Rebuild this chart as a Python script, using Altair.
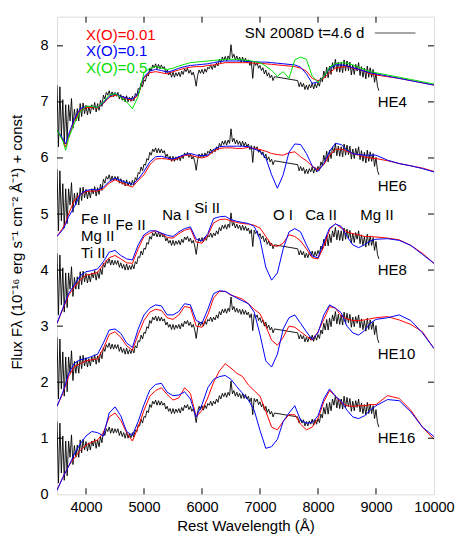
import altair as alt
import pandas as pd

# ---------------- data ----------------
model_wave = [3500, 3600, 3650, 3700, 3800, 3900, 4000, 4100, 4200, 4300, 4400, 4500, 4600, 4700, 4800, 4900,
              5000, 5100, 5200, 5300, 5400, 5500, 5600, 5700, 5800, 5900, 6000, 6100, 6200, 6300, 6400, 6500,
              6600, 6700, 6800, 6900, 7000, 7100, 7200, 7300, 7400, 7500, 7600, 7700, 7800, 7900, 8000, 8100,
              8200, 8300, 8400, 8500, 8600, 8700, 8800, 8900, 9000, 9200, 9400, 9600, 9800, 10000]

# HE16
he16_red = [0.08, 0.3, 0.4, 0.5, 0.65, 0.78, 0.88, 0.93, 0.97, 1.1, 1.38, 1.45, 1.32, 1.1, 0.95, 1.2,
            1.5, 1.75, 1.85, 1.9, 1.78, 1.68, 1.72, 1.9, 1.8, 1.38, 1.5, 1.72, 2.0, 2.2, 2.33, 2.25,
            2.16, 2.1, 1.95, 1.85, 1.75, 1.48, 1.2, 1.15, 1.3, 1.42, 1.42, 1.25, 1.15, 1.2, 1.35, 1.65,
            1.85, 1.75, 1.63, 1.58, 1.57, 1.58, 1.58, 1.6, 1.6, 1.76, 1.71, 1.5, 1.2, 0.98]
he16_blue = [0.07, 0.3, 0.4, 0.5, 0.72, 0.9, 1.04, 1.12, 1.1, 1.04, 1.45, 1.56, 1.4, 1.12, 1.05, 1.3,
             1.6, 1.86, 1.96, 1.98, 1.82, 1.76, 1.77, 1.83, 1.7, 1.38, 1.6, 1.9, 2.05, 2.1, 2.12, 2.05,
             1.92, 1.8, 1.68, 1.5, 1.14, 0.82, 0.85, 0.98, 1.3, 1.45, 1.58, 1.32, 1.27, 1.28, 1.4, 1.7,
             1.88, 1.75, 1.66, 1.5, 1.38, 1.35, 1.4, 1.5, 1.58, 1.69, 1.67, 1.47, 1.2, 1.03]
# HE10
he10_red = [1.57, 1.8, 1.95, 2.1, 2.28, 2.33, 2.38, 2.4, 2.42, 2.6, 2.85, 2.9, 2.8, 2.65, 2.57, 2.85,
            3.1, 3.25, 3.3, 3.28, 3.15, 3.12, 3.2, 3.35, 3.33, 3.0, 2.98, 3.2, 3.5, 3.62, 3.62, 3.55,
            3.52, 3.48, 3.4, 3.3, 3.22, 3.0, 2.75, 2.66, 2.8, 3.0, 2.98, 2.9, 2.82, 2.75, 2.9, 3.12,
            3.35, 3.32, 3.18, 3.13, 3.1, 3.1, 3.11, 3.13, 3.15, 3.17, 3.11, 3.03, 2.9, 2.6]
he10_blue = [1.57, 1.82, 1.98, 2.15, 2.34, 2.4, 2.42, 2.46, 2.5, 2.7, 2.93, 2.95, 2.87, 2.7, 2.62, 2.95,
             3.2, 3.32, 3.38, 3.36, 3.2, 3.2, 3.26, 3.4, 3.38, 3.1, 3.05, 3.3, 3.58, 3.63, 3.62, 3.56,
             3.5, 3.45, 3.4, 3.25, 2.85, 2.38, 2.27, 2.5, 2.95, 3.15, 3.2, 3.05, 2.9, 2.76, 2.88, 3.2,
             3.38, 3.32, 3.24, 3.0, 2.88, 2.84, 2.92, 3.05, 3.12, 3.15, 3.2, 3.1, 2.88, 2.6]
# HE8
he8_red = [3.05, 3.3, 3.42, 3.55, 3.7, 3.82, 3.91, 3.93, 3.96, 4.1, 4.22, 4.26, 4.2, 4.13, 4.12, 4.38,
           4.6, 4.66, 4.7, 4.65, 4.58, 4.57, 4.65, 4.71, 4.74, 4.5, 4.48, 4.62, 4.84, 4.9, 4.91, 4.88,
           4.85, 4.83, 4.82, 4.8, 4.75, 4.6, 4.45, 4.42, 4.48, 4.63, 4.6, 4.52, 4.38, 4.22, 4.2, 4.42,
           4.72, 4.83, 4.75, 4.68, 4.65, 4.63, 4.6, 4.6, 4.59, 4.57, 4.54, 4.44, 4.3, 4.12]
he8_blue = [3.05, 3.32, 3.45, 3.58, 3.74, 3.9, 3.97, 3.99, 4.02, 4.15, 4.32, 4.35, 4.26, 4.2, 4.18, 4.45,
            4.63, 4.7, 4.7, 4.66, 4.62, 4.6, 4.68, 4.74, 4.77, 4.55, 4.52, 4.65, 4.92, 4.95, 4.96, 4.9,
            4.87, 4.85, 4.83, 4.78, 4.55, 4.05, 3.82, 3.95, 4.38, 4.68, 4.74, 4.68, 4.45, 4.25, 4.22, 4.5,
            4.75, 4.82, 4.78, 4.6, 4.45, 4.4, 4.45, 4.52, 4.55, 4.56, 4.53, 4.44, 4.28, 4.12]
# HE6
he6_red = [4.6, 4.75, 4.85, 5.0, 5.25, 5.35, 5.4, 5.41, 5.41, 5.45, 5.55, 5.61, 5.56, 5.52, 5.48, 5.6,
           5.7, 5.88, 5.98, 5.99, 5.98, 5.96, 6.0, 6.05, 6.05, 6.02, 6.0, 6.03, 6.12, 6.17, 6.18, 6.18,
           6.17, 6.17, 6.19, 6.17, 6.15, 6.12, 6.08, 6.06, 6.05, 6.09, 6.11, 6.02, 5.95, 5.85, 5.79, 5.88,
           6.05, 6.15, 6.16, 6.12, 6.08, 6.05, 6.02, 6.0, 5.99, 5.95, 5.9, 5.86, 5.82, 5.76]
he6_blue = [4.6, 4.72, 4.82, 4.95, 5.13, 5.35, 5.42, 5.44, 5.43, 5.48, 5.58, 5.64, 5.6, 5.56, 5.53, 5.62,
            5.76, 5.93, 6.02, 6.03, 6.0, 5.98, 6.02, 6.06, 6.08, 6.05, 6.04, 6.05, 6.15, 6.2, 6.21, 6.21,
            6.21, 6.21, 6.2, 6.16, 6.12, 6.0, 5.7, 5.46, 5.7, 6.1, 6.25, 6.24, 6.08, 5.86, 5.76, 5.9,
            6.12, 6.26, 6.24, 6.14, 6.08, 6.06, 6.05, 6.05, 6.05, 5.96, 5.9, 5.86, 5.81, 5.75]
# HE4
he4_red = [6.5, 6.32, 6.2, 6.38, 6.65, 6.85, 6.9, 6.9, 6.89, 6.97, 7.08, 7.12, 7.1, 7.06, 7.03, 7.12,
           7.43, 7.52, 7.54, 7.52, 7.5, 7.54, 7.57, 7.6, 7.62, 7.63, 7.63, 7.65, 7.66, 7.68, 7.7, 7.7,
           7.7, 7.7, 7.7, 7.69, 7.69, 7.68, 7.67, 7.66, 7.65, 7.64, 7.63, 7.6, 7.55, 7.42, 7.38, 7.42,
           7.52, 7.6, 7.62, 7.63, 7.6, 7.58, 7.55, 7.5, 7.48, 7.45, 7.42, 7.38, 7.34, 7.3]
he4_blue = [6.5, 6.35, 6.25, 6.42, 6.7, 6.88, 6.92, 6.92, 6.9, 6.98, 7.1, 7.15, 7.1, 7.07, 7.05, 7.15,
            7.45, 7.55, 7.58, 7.56, 7.53, 7.56, 7.6, 7.63, 7.65, 7.66, 7.67, 7.68, 7.7, 7.72, 7.73, 7.73,
            7.73, 7.73, 7.72, 7.72, 7.71, 7.71, 7.7, 7.69, 7.68, 7.67, 7.66, 7.62, 7.5, 7.33, 7.36, 7.45,
            7.6, 7.66, 7.66, 7.64, 7.61, 7.58, 7.55, 7.52, 7.5, 7.46, 7.42, 7.38, 7.34, 7.3]
he4_green = [6.5, 6.3, 6.14, 6.35, 6.62, 6.82, 6.92, 6.92, 6.9, 7.0, 7.12, 7.15, 7.08, 7.0, 6.88, 7.1,
             7.52, 7.6, 7.63, 7.6, 7.58, 7.6, 7.64, 7.67, 7.7, 7.71, 7.72, 7.73, 7.74, 7.75, 7.76, 7.76,
             7.76, 7.75, 7.74, 7.72, 7.7, 7.64, 7.56, 7.46, 7.54, 7.42, 7.75, 7.8, 7.76, 7.46, 7.35, 7.45,
             7.62, 7.68, 7.7, 7.69, 7.66, 7.62, 7.58, 7.54, 7.52, 7.48, 7.44, 7.4, 7.36, 7.32]

# observed spectrum of SN 2008D (lowest panel level; other panels shifted by a constant)
obs_wave = [3500, 3525, 3550, 3575, 3600, 3625, 3650, 3675, 3700, 3725, 3750, 3775, 3800, 3825, 3850, 3875,
            3900, 3925, 3950, 3975, 4000, 4025, 4050, 4075, 4100, 4125, 4150, 4175, 4200, 4225, 4250, 4275,
            4300, 4325, 4350, 4375, 4400, 4425, 4450, 4475, 4500, 4525, 4550, 4575, 4600, 4625, 4650, 4675,
            4700, 4725, 4750, 4775, 4800, 4825, 4850, 4875, 4900, 4925, 4950, 4975, 5000, 5025, 5050, 5075,
            5100, 5125, 5150, 5175, 5200, 5225, 5250, 5275, 5300, 5325, 5350, 5375, 5400, 5425, 5450, 5475,
            5500, 5525, 5550, 5575, 5600, 5625, 5650, 5675, 5700, 5725, 5750, 5775, 5800, 5825, 5850, 5875,
            5900, 5925, 5950, 5975, 6000, 6025, 6050, 6075, 6100, 6125, 6150, 6175, 6200, 6225, 6250, 6275,
            6300, 6325, 6350, 6375, 6400, 6425, 6450, 6475, 6500, 6525, 6550, 6575, 6600, 6625, 6650, 6675,
            6700, 6725, 6750, 6775, 6800, 6825, 6850, 6875, 6900, 6925, 6950, 6975, 7000, 7025, 7050, 7075,
            7100, 7125, 7150, 7175, 7200, 7225, 7250, 7650, 7675, 7700, 7725, 7750, 7775, 7800, 7825, 7850,
            7875, 7900, 7925, 7950, 7975, 8000, 8025, 8050, 8075, 8100, 8125, 8150, 8175, 8200, 8225, 8250,
            8275, 8300, 8325, 8350, 8375, 8400, 8425, 8450, 8475, 8500, 8525, 8550, 8575, 8600, 8625, 8650,
            8675, 8700, 8725, 8750, 8775, 8800, 8825, 8850, 8875, 8900, 8925, 8950, 8975, 9000, 9025, 9050]
obs_flux = [1.30, 0.20, 1.27, 0.38, 1.04, 0.25, 0.95, 0.33, 0.95, 0.66, 1.06, 0.53, 0.87, 0.66, 0.88, 0.66,
            0.97, 0.74, 0.98, 0.79, 0.94, 0.77, 0.92, 0.79, 0.95, 0.86, 0.99, 0.82, 0.97, 0.85, 1.03, 0.92,
            1.12, 1.05, 1.17, 1.12, 1.20, 1.09, 1.18, 1.09, 1.17, 1.10, 1.17, 1.05, 1.13, 1.03, 1.10, 1.00,
            1.11, 1.00, 1.08, 1.01, 1.10, 1.02, 1.15, 1.11, 1.24, 1.22, 1.34, 1.27, 1.39, 1.37, 1.49, 1.46,
            1.60, 1.55, 1.66, 1.61, 1.68, 1.59, 1.67, 1.59, 1.66, 1.59, 1.63, 1.52, 1.57, 1.48, 1.53, 1.44,
            1.53, 1.44, 1.52, 1.46, 1.53, 1.45, 1.55, 1.49, 1.59, 1.54, 1.60, 1.51, 1.57, 1.48, 1.53, 1.43,
            1.28, 1.47, 1.57, 1.51, 1.58, 1.50, 1.59, 1.53, 1.62, 1.59, 1.66, 1.58, 1.66, 1.61, 1.70, 1.64,
            1.76, 1.70, 1.80, 1.74, 1.81, 1.73, 1.82, 1.76, 2.02, 1.79, 1.85, 1.75, 1.82, 1.74, 1.80, 1.71,
            1.80, 1.71, 1.78, 1.70, 1.75, 1.65, 1.72, 1.42, 1.71, 1.65, 1.70, 1.60, 1.65, 1.56, 1.61, 1.50,
            1.57, 1.46, 1.52, 1.43, 1.48, 1.38, 1.45, 1.38, 1.27, 1.35, 1.27, 1.33, 1.22, 1.30, 1.22, 1.31,
            1.25, 1.34, 1.23, 1.33, 1.25, 1.35, 1.28, 1.43, 1.36, 1.55, 1.43, 1.62, 1.43, 1.64, 1.49, 1.70,
            1.59, 1.76, 1.54, 1.71, 1.53, 1.70, 1.52, 1.75, 1.55, 1.73, 1.56, 1.71, 1.48, 1.66, 1.49, 1.67,
            1.55, 1.70, 1.47, 1.63, 1.44, 1.60, 1.41, 1.64, 1.44, 1.61, 1.44, 1.58, 1.35, 1.51, 1.28, 1.20]

panels = ["HE4", "HE6", "HE8", "HE10", "HE16"]
panel_offsets = [6.0, 4.5, 3.0, 1.5, 0.0]
panel_label_y = [7.0, 5.5, 4.0, 2.5, 1.0]

model_names = ["X(O)=0.01", "X(O)=0.1", "X(O)=0.5"]
model_colors = ["#ff0000", "#0000ff", "#00e000"]

line_ids = ["Fe II", "Mg II", "Ti II", "Fe II", "Na I", "Si II", "O I", "Ca II", "Mg II"]
line_id_wave = [3915, 3915, 3915, 4510, 5315, 5865, 7225, 7780, 8730]
line_id_flux = [4.92, 4.6, 4.31, 4.8, 4.98, 5.1, 4.98, 4.98, 4.98]

x_ticks = [4000, 5000, 6000, 7000, 8000, 9000, 10000]
y_ticks = [0, 1, 2, 3, 4, 5, 6, 7, 8]

# ---------------- tables ----------------
series = {
    ("HE16", "X(O)=0.01"): he16_red, ("HE16", "X(O)=0.1"): he16_blue,
    ("HE10", "X(O)=0.01"): he10_red, ("HE10", "X(O)=0.1"): he10_blue,
    ("HE8", "X(O)=0.01"): he8_red, ("HE8", "X(O)=0.1"): he8_blue,
    ("HE6", "X(O)=0.01"): he6_red, ("HE6", "X(O)=0.1"): he6_blue,
    ("HE4", "X(O)=0.01"): he4_red, ("HE4", "X(O)=0.1"): he4_blue, ("HE4", "X(O)=0.5"): he4_green,
}
rows = []
for (p, m), vals in series.items():
    for w, f in zip(model_wave, vals):
        rows.append({"wave": w, "flux": f, "panel": p, "model": m})
models_df = pd.DataFrame(rows)

orows = []
for p, off in zip(panels, panel_offsets):
    for w, f in zip(obs_wave, obs_flux):
        orows.append({"wave": w, "flux": f + off, "panel": p})
obs_df = pd.DataFrame(orows)

W, H = 377, 477.6
FONT = "Liberation Sans"
FS = 15
LFS = 14.5

xs = alt.Scale(domain=[3500, 10000], nice=False, zero=False)
ys = alt.Scale(domain=[0, 8.52], nice=False, zero=False)
X = alt.X("wave:Q", scale=xs, axis=alt.Axis(values=x_ticks, ticks=False, tickSize=0, domain=False, grid=False,
                                            labelPadding=6, labelFontSize=LFS, labelFont=FONT, labelColor="black",
                                            labelFlush=False, labelBound=False, labelOverlap=False, format="d",
                                            title="Rest Wavelength (Å)", titleFontSize=FS, titleFont=FONT,
                                            titleFontWeight="normal", titleColor="black",
                                            titleBaseline="middle", titleY=31))
Y = alt.Y("flux:Q", scale=ys, axis=alt.Axis(values=y_ticks, ticks=False, tickSize=0, domain=False, grid=False,
                                           labelPadding=9, labelFontSize=LFS, labelFont=FONT, labelColor="black",
                                           labelFlush=False, labelBound=False, labelOverlap=False, format="d",
                                           title="Flux  Fλ  (10⁻¹⁶ erg s⁻¹ cm⁻² Å⁻¹) + const",
                                           titleFontSize=FS, titleFont=FONT, titleFontWeight="normal",
                                           titleColor="black", titleAngle=270, titleBaseline="middle",
                                           titleAlign="center", titleX=-41, titleY=225))

obs_layer = alt.Chart(obs_df).mark_line(color="black", strokeWidth=0.9, clip=True).encode(
    x=X, y=Y, detail="panel:N")

def model_layer(name, color):
    d = models_df[models_df["model"] == name]
    return alt.Chart(d).mark_line(color=color, strokeWidth=1, clip=True).encode(x=X, y=Y, detail="panel:N")

red_layer = model_layer(model_names[0], model_colors[0])
blue_layer = model_layer(model_names[1], model_colors[1])
green_layer = model_layer(model_names[2], model_colors[2])

# legend texts (top-left) and observed legend entry (top-right)
leg_df = pd.DataFrame({"wave": [4000, 4000, 4000], "flux": [8.2, 7.9, 7.6], "label": model_names,
                       "model": model_names})
leg_text = alt.Chart(leg_df).mark_text(align="left", baseline="middle", fontSize=FS, font=FONT).encode(
    x=X, y=Y, text="label:N",
    color=alt.Color("model:N", scale=alt.Scale(domain=model_names, range=model_colors), legend=None))

obs_leg_df = pd.DataFrame({"wave": [8800], "flux": [8.23], "label": ["SN 2008D t=4.6 d"]})
obs_leg_text = alt.Chart(obs_leg_df).mark_text(align="right", baseline="middle", fontSize=FS, font=FONT,
                                               color="black").encode(x=X, y=Y, text="label:N")
obs_leg_line_df = pd.DataFrame({"wave": [8980], "wave2": [9680], "flux": [8.23]})
obs_leg_line = alt.Chart(obs_leg_line_df).mark_rule(color="#888888", strokeWidth=1.5).encode(
    x=X, x2="wave2:Q", y=Y)

panel_df = pd.DataFrame({"wave": [9030] * 5, "flux": panel_label_y, "label": panels})
panel_text = alt.Chart(panel_df).mark_text(align="left", baseline="middle", fontSize=FS, font=FONT,
                                           color="black").encode(x=X, y=Y, text="label:N")

lid_df = pd.DataFrame({"wave": line_id_wave, "flux": line_id_flux, "label": line_ids})
lid_text = alt.Chart(lid_df).mark_text(align="left", baseline="middle", fontSize=FS, font=FONT,
                                       color="black").encode(x=X, y=Y, text="label:N")

# inward ticks on all four sides
xt_df = pd.DataFrame({"wave": x_ticks[:-1]})
yt_df = pd.DataFrame({"flux": y_ticks[1:]})
xt_bottom = alt.Chart(xt_df).mark_rule(color="black").encode(x=X, y=alt.value(H), y2=alt.value(H - 6))
xt_top = alt.Chart(xt_df).mark_rule(color="black").encode(x=X, y=alt.value(0), y2=alt.value(6))
yt_left = alt.Chart(yt_df).mark_rule(color="black").encode(y=Y, x=alt.value(0), x2=alt.value(6))
yt_right = alt.Chart(yt_df).mark_rule(color="black").encode(y=Y, x=alt.value(W), x2=alt.value(W - 6))

chart = alt.layer(
    obs_layer, red_layer, blue_layer, green_layer,
    leg_text, obs_leg_text, obs_leg_line, panel_text, lid_text,
    xt_bottom, xt_top, yt_left, yt_right,
).properties(
    width=W, height=H,
    autosize=alt.AutoSizeParams(type="none"),
    padding={"left": 49, "top": 8.7, "right": 21, "bottom": 44},
).configure_view(stroke="black", strokeWidth=1.2).configure(background="white")

chart.save("out.html", embed_options={"renderer": "svg", "actions": False})
